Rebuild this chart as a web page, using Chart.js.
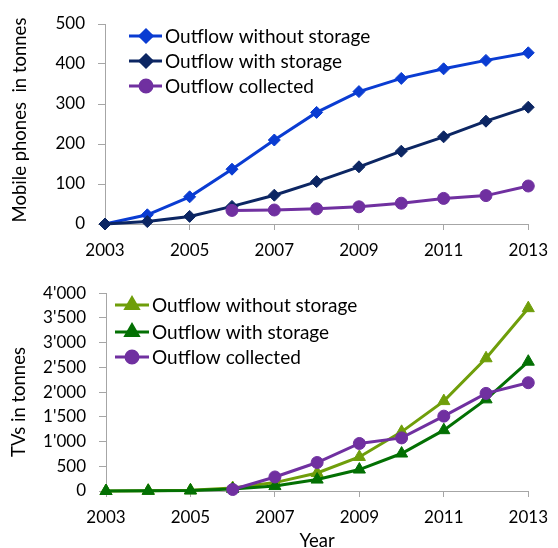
<!DOCTYPE html>
<html>
<head>
<meta charset="utf-8">
<script src="https://cdn.jsdelivr.net/npm/chart.js@4"></script>
<style>
  html, body { margin: 0; padding: 0; background: #fff; }
  body { width: 558px; height: 548px; position: relative; overflow: hidden; }
  canvas { position: absolute; left: 0; }
  #c1 { top: 0; }
  #c2 { top: 270px; }
</style>
</head>
<body>
<canvas id="c1" width="558" height="270"></canvas>
<canvas id="c2" width="558" height="278"></canvas>
<script>
// ---- data ----
const years = [2003, 2004, 2005, 2006, 2007, 2008, 2009, 2010, 2011, 2012, 2013];
const seriesLabels = ['Outflow without storage', 'Outflow with storage', 'Outflow collected'];

const phonesWithout   = [0, 23, 68, 137, 210, 279, 331, 364, 388, 409, 428];
const phonesWith      = [0, 6, 19, 44, 72, 106, 143, 182, 218, 257, 292];
const phonesCollected = [null, null, null, 34, 35, 38, 43, 52, 64, 71, 95];

const tvsWithout   = [0, 5, 15, 60, 170, 365, 689, 1196, 1818, 2684, 3697];
const tvsWith      = [0, 3, 10, 40, 100, 231, 434, 758, 1230, 1853, 2615];
const tvsCollected = [null, null, null, 30, 284, 576, 961, 1074, 1514, 1974, 2190];

const phonesTitle = 'Mobile phones  in tonnes';
const tvsTitle = 'TVs in tonnes';
const xTitle = 'Year';

// ---- helpers ----
const FONT = 'Lato';
Chart.defaults.font.family = FONT;
Chart.defaults.font.size = 17;
Chart.defaults.color = '#000';
const AXIS = '#a6a6a6';

function pts(vals) { return years.map((y, i) => ({ x: y, y: vals[i] })); }

function ds(label, vals, color, style, radius, order) {
  return {
    label, data: pts(vals), borderColor: color, backgroundColor: color,
    borderWidth: 3, pointStyle: style, pointRadius: radius, pointHoverRadius: radius,
    pointBorderWidth: 1, pointBorderColor: color, pointBackgroundColor: color,
    tension: 0, order, clip: false
  };
}

function legendPlugin(cfg) {
  return {
    id: 'customLegend',
    afterDatasetsDraw(chart) {
      const ctx = chart.ctx;
      ctx.save();
      chart.data.datasets.forEach((d, i) => {
        const y = cfg.rows[i];
        ctx.strokeStyle = d.borderColor;
        ctx.lineWidth = 3;
        ctx.beginPath();
        ctx.moveTo(cfg.lx0, y);
        ctx.lineTo(cfg.lx1, y);
        ctx.stroke();
        ctx.fillStyle = d.backgroundColor;
        Chart.helpers.drawPoint(ctx, {
          pointStyle: d.pointStyle, radius: d.pointRadius, borderWidth: 1, rotation: 0
        }, cfg.mx, y);
        ctx.fillStyle = '#000';
        ctx.font = '19px ' + FONT;
        ctx.textBaseline = 'middle';
        ctx.textAlign = 'left';
        ctx.fillText(d.label, cfg.tx, y + 1);
      });
      // rotated y-axis title
      ctx.translate(cfg.yTitleX, cfg.yTitleY);
      ctx.rotate(-Math.PI / 2);
      ctx.font = '18.5px ' + FONT;
      ctx.textAlign = 'center';
      ctx.textBaseline = 'middle';
      ctx.fillStyle = '#000';
      ctx.fillText(cfg.yTitle, 0, 0);
      ctx.restore();
    }
  };
}

function makeChart(id, datasets, yMax, yStep, yWidth, xHeight, pad, withXTitle, tickFmt, legendCfg) {
  return new Chart(document.getElementById(id), {
    type: 'line',
    data: { datasets },
    options: {
      responsive: false, animation: false, devicePixelRatio: 1,
      layout: { padding: pad },
      plugins: { legend: { display: false }, tooltip: { enabled: false } },
      scales: {
        x: {
          type: 'linear', min: years[0], max: years[years.length - 1],
          afterFit(s) { s.height = xHeight; },
          ticks: { stepSize: 2, padding: 10, callback: v => String(v), maxRotation: 0, autoSkip: false },
          grid: { drawOnChartArea: false, drawTicks: true, tickLength: 6, color: AXIS, lineWidth: 1 },
          border: { color: AXIS, width: 1 },
          title: withXTitle ? { display: true, text: xTitle, padding: 0, font: { size: 18.5, lineHeight: 0.75 } } : { display: false }
        },
        y: {
          min: 0, max: yMax,
          afterFit(s) { s.width = yWidth; },
          ticks: { stepSize: yStep, padding: 13, callback: tickFmt },
          grid: { drawOnChartArea: false, drawTicks: true, tickLength: 7, color: AXIS, lineWidth: 1 },
          border: { color: AXIS, width: 1 },
          title: { display: false }
        }
      }
    },
    plugins: [legendPlugin(legendCfg)]
  });
}

const fmtPlain = v => String(v);
const fmtApos = v => String(v).replace(/\B(?=(\d{3})+(?!\d))/g, "'");

makeChart('c1', [
  ds(seriesLabels[0], phonesWithout, '#0a3cd2', 'rectRot', 6, 3),
  ds(seriesLabels[1], phonesWith, '#0c2663', 'rectRot', 6, 2),
  ds(seriesLabels[2], phonesCollected, '#7030a0', 'circle', 6, 1)
], 500, 100, 105, 46, { top: 24, right: 23, left: 0, bottom: 0 }, false, fmtPlain,
  { lx0: 129, lx1: 162, mx: 146, tx: 165, rows: [36, 61, 86], yTitle: phonesTitle, yTitleX: 20, yTitleY: 120 });

makeChart('c2', [
  ds(seriesLabels[0], tvsWithout, '#6f9e0a', 'triangle', 7, 3),
  ds(seriesLabels[1], tvsWith, '#037003', 'triangle', 7, 2),
  ds(seriesLabels[2], tvsCollected, '#7030a0', 'circle', 6, 1)
], 4000, 500, 106, 57, { top: 23, right: 22, left: 0, bottom: 0 }, true, fmtApos,
  { lx0: 115, lx1: 149, mx: 132, tx: 152, rows: [35, 62, 87], yTitle: tvsTitle, yTitleX: 19, yTitleY: 132 });
</script>
</body>
</html>
